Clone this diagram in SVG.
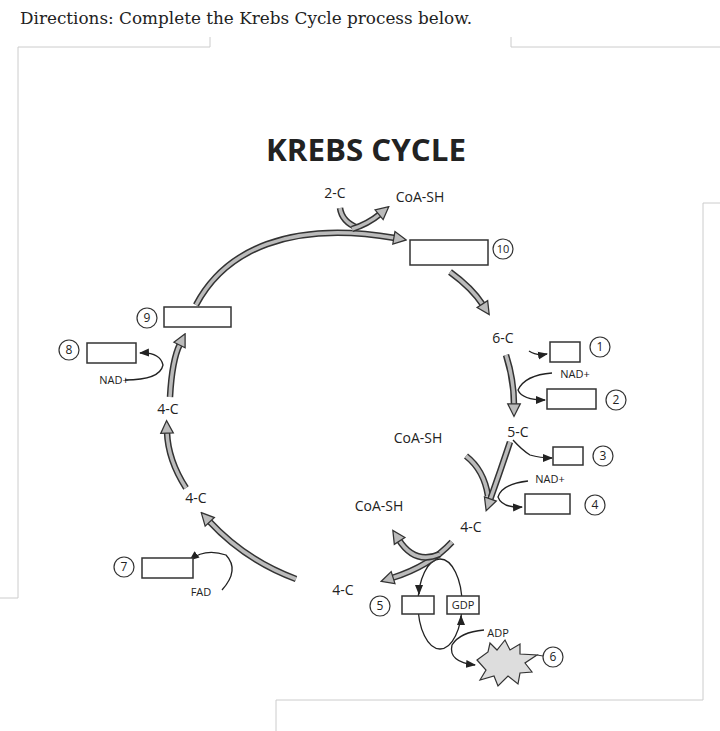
<svg xmlns="http://www.w3.org/2000/svg" width="720" height="731" viewBox="0 0 720 731">
<style>
text{font-family:"Open Sans","Liberation Sans",sans-serif;fill:#222}
.t{font-size:14px;text-anchor:middle}
.s{font-size:11px;text-anchor:middle}
.n{font-size:12px;text-anchor:middle}
.box{fill:#fff;stroke:#333;stroke-width:1.5}
.cir{fill:#fff;stroke:#333;stroke-width:1.2}
.ao{fill:none;stroke:#333;stroke-width:6.5}
.ai{fill:none;stroke:#bbb;stroke-width:3.5;marker-end:url(#big)}
.thin{fill:none;stroke:#222;stroke-width:1.3;marker-end:url(#sm)}
.pg{stroke:#ccc;stroke-width:1;fill:none}
</style>
<defs>
<marker id="big" markerUnits="userSpaceOnUse" markerWidth="16" markerHeight="16" viewBox="-2 -7 14 14" refX="1" refY="0" orient="auto"><path d="M0,-5.5 L11,0 L0,5.5 z" fill="#bbb" stroke="#333" stroke-width="1.1"/></marker>
<marker id="sm" markerUnits="userSpaceOnUse" markerWidth="10" markerHeight="10" viewBox="0 -5 10 10" refX="9" refY="0" orient="auto"><path d="M0,-4 L10,0 L0,4 z" fill="#222"/></marker>
</defs>
<rect width="720" height="731" fill="#fff"/>
<g id="page">
<path class="pg" d="M18,598V47H210V37M511,37V47H720M720,203H703V700H276V731M0,598H18"/>
</g>
<text x="20" y="24" style="font-family:'DejaVu Serif',serif;font-size:16px" textLength="452" lengthAdjust="spacingAndGlyphs">Directions: Complete the Krebs Cycle process below.</text>
<text x="366" y="161" style="font-size:31px;font-weight:bold;text-anchor:middle" textLength="200" lengthAdjust="spacingAndGlyphs">KREBS CYCLE</text>

<g id="connectors">
<ellipse cx="440" cy="604" rx="22" ry="45" fill="none" stroke="#222" stroke-width="1.3"/>
<path class="ao" d="M196,305 C225,250 290,220 395,238"/><path class="ai" d="M196,305 C225,250 290,220 395,238"/>
<path class="ao" d="M340,208 Q342,222 358,228"/><path class="ai" d="M340,208 Q342,222 358,228" style="marker-end:none"/>
<path class="ao" d="M352,229 Q368,224 380,214"/><path class="ai" d="M352,229 Q368,224 380,214"/>
<path class="ao" d="M450,272 Q472,288 483,305"/><path class="ai" d="M450,272 Q472,288 483,305"/>
<path class="ao" d="M506,355 Q514,380 514,405"/><path class="ai" d="M506,355 Q514,380 514,405"/>
<path class="ao" d="M466,456 Q484,470 488,496"/><path class="ai" d="M466,456 Q484,470 488,496" style="marker-end:none"/>
<path class="ao" d="M510,442 Q500,472 490,500"/><path class="ai" d="M510,442 Q500,472 490,500"/>
<path class="ao" d="M452,542 Q430,566 392,578"/><path class="ai" d="M452,542 Q430,566 392,578"/>
<path class="ao" d="M440,554 Q415,565 399,540"/><path class="ai" d="M440,554 Q415,565 399,540"/>
<path class="ao" d="M296,579 Q245,560 209,521"/><path class="ai" d="M296,579 Q245,560 209,521"/>
<path class="ao" d="M186,488 Q168,460 167,432"/><path class="ai" d="M186,488 Q168,460 167,432"/>
<path class="ao" d="M170,397 Q172,360 180,344"/><path class="ai" d="M170,397 Q172,360 180,344"/>
<path class="thin" d="M529,351 Q536,356 547,354"/>
<path class="thin" d="M552,373 Q525,375 518,390 Q522,400 545,400"/>
<path class="thin" d="M513,440 Q522,450 530,455 Q540,458 552,458"/>
<path class="thin" d="M528,481 Q502,484 498,497 Q502,508 522,507"/>
<path class="thin" d="M222,590 Q240,570 226,555 Q205,548 190,560"/>
<path class="thin" d="M125,380 Q160,380 163,365 Q160,352 140,353"/>
<path class="thin" d="M419,585 L419,594"/>
<path class="thin" d="M461,624 L461,616"/>
<path class="thin" d="M484,630 Q460,632 452,645 Q448,662 475,665"/>
</g>

<g id="labels">
<text class="t" x="335" y="198">2-C</text>
<text class="t" x="420" y="202">CoA-SH</text>
<text class="t" x="503" y="343">6-C</text>
<text class="s" x="575" y="378">NAD+</text>
<text class="t" x="518" y="437">5-C</text>
<text class="t" x="418" y="443">CoA-SH</text>
<text class="s" x="550" y="483">NAD+</text>
<text class="t" x="379" y="511">CoA-SH</text>
<text class="t" x="471" y="532">4-C</text>
<text class="t" x="343" y="595">4-C</text>
<text class="s" x="498" y="637">ADP</text>
<text class="t" x="196" y="503">4-C</text>
<text class="t" x="168" y="414">4-C</text>
<text class="s" x="114" y="384">NAD+</text>
<text class="s" x="201" y="596">FAD</text>
</g>

<g id="n10"><rect class="box" x="410" y="240" width="78" height="25"/><circle class="cir" cx="503" cy="249" r="10"/><text class="s" x="503" y="253">10</text></g>
<g id="n1"><rect class="box" x="550" y="342" width="30" height="20"/><circle class="cir" cx="600" cy="347" r="10"/><text class="n" x="600" y="351">1</text></g>
<g id="n2"><rect class="box" x="547" y="389" width="49" height="20"/><circle class="cir" cx="616" cy="400" r="10"/><text class="n" x="616" y="404">2</text></g>
<g id="n3"><rect class="box" x="553" y="447" width="30" height="18"/><circle class="cir" cx="603" cy="456" r="10"/><text class="n" x="603" y="460">3</text></g>
<g id="n4"><rect class="box" x="525" y="494" width="45" height="20"/><circle class="cir" cx="595" cy="505" r="10"/><text class="n" x="595" y="509">4</text></g>
<g id="n5"><rect class="box" x="402" y="596" width="32" height="18"/><circle class="cir" cx="380" cy="606" r="10"/><text class="n" x="380" y="610">5</text></g>
<g id="gdp"><rect class="box" x="447" y="596" width="32" height="18"/><text class="s" x="463" y="609">GDP</text></g>
<g id="n6"><path d="M477,660 L488,652 L490,643 L497,650 L505,640 L510,650 L520,644 L520,654 L537,655 L525,663 L532,672 L520,673 L518,684 L508,676 L498,686 L494,676 L480,680 L486,670 Z" fill="#ddd" stroke="#333" stroke-width="1.2"/><path d="M537,655 L543,656" stroke="#333"/><circle class="cir" cx="553" cy="657" r="10"/><text class="n" x="553" y="661">6</text></g>
<g id="n7"><rect class="box" x="142" y="558" width="51" height="20"/><circle class="cir" cx="124" cy="567" r="10"/><text class="n" x="124" y="571">7</text></g>
<g id="n8"><rect class="box" x="87" y="343" width="49" height="20"/><circle class="cir" cx="69" cy="350" r="10"/><text class="n" x="69" y="354">8</text></g>
<g id="n9"><rect class="box" x="164" y="307" width="67" height="20"/><circle class="cir" cx="147" cy="318" r="10"/><text class="n" x="147" y="322">9</text></g>
</svg>
